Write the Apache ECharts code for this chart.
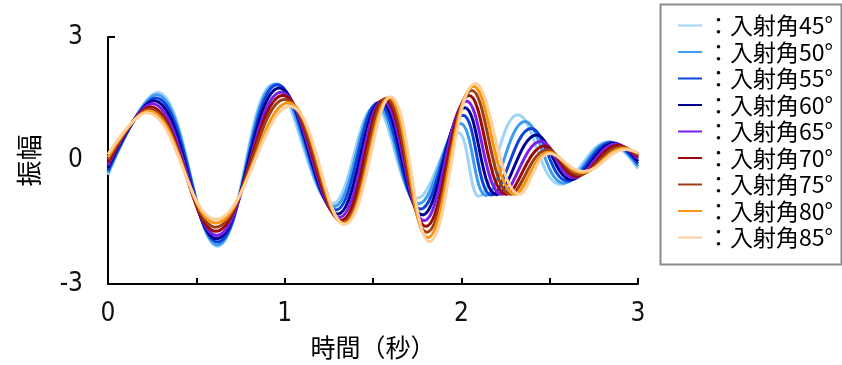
<!DOCTYPE html>
<html>
<head>
<meta charset="utf-8">
<script src="https://cdn.jsdelivr.net/npm/echarts@6/dist/echarts.min.js"></script>
<style>
html,body{margin:0;padding:0;background:#fff;}
#chart{width:842px;height:365px;}
</style>
</head>
<body>
<div id="chart"></div>
<script>
// Legend names and colours
const seriesNames = ['：入射角45°','：入射角50°','：入射角55°','：入射角60°','：入射角65°','：入射角70°','：入射角75°','：入射角80°','：入射角85°'];
const seriesColors = ['#9FD4F7','#3D9CF0','#0D42DC','#000090','#7A1FE8','#9C0808','#9C4116','#F7960E','#FFCF9C'];

// Key points (time in s, amplitude) for each incidence angle
const time45 = [0, 0.28, 0.62, 0.94, 1.27, 1.51, 1.75, 1.98, 2.10, 2.32, 2.56, 2.83, 3];
const amp45  = [-0.35, 1.65, -2.08, 1.85, -1.05, 1.30, -0.92, 0.68, -0.87, 1.11, -0.58, 0.45, -0.20];

const time50 = [0, 0.275, 0.62, 0.95, 1.28, 1.52, 1.76, 1.995, 2.14, 2.36, 2.58, 2.84, 3];
const amp50  = [-0.30, 1.60, -2.05, 1.86, -1.12, 1.35, -1.05, 0.90, -0.85, 0.95, -0.55, 0.45, -0.14];

const time55 = [0, 0.27, 0.62, 0.96, 1.29, 1.53, 1.77, 2.01, 2.17, 2.395, 2.60, 2.85, 3];
const amp55  = [-0.25, 1.52, -1.98, 1.84, -1.20, 1.40, -1.18, 1.10, -0.84, 0.78, -0.50, 0.44, -0.08];

const time60 = [0, 0.26, 0.615, 0.97, 1.30, 1.545, 1.78, 2.02, 2.20, 2.425, 2.62, 2.865, 3];
const amp60  = [-0.18, 1.45, -1.90, 1.76, -1.30, 1.43, -1.32, 1.28, -0.83, 0.62, -0.46, 0.42, -0.02];

const time65 = [0, 0.25, 0.615, 0.98, 1.31, 1.555, 1.79, 2.03, 2.23, 2.45, 2.635, 2.875, 3];
const amp65  = [-0.12, 1.38, -1.82, 1.66, -1.38, 1.46, -1.46, 1.44, -0.82, 0.47, -0.42, 0.40, 0.04];

const time70 = [0, 0.24, 0.61, 0.99, 1.32, 1.565, 1.80, 2.045, 2.255, 2.47, 2.65, 2.89, 3];
const amp70  = [-0.05, 1.30, -1.72, 1.58, -1.45, 1.49, -1.60, 1.58, -0.82, 0.35, -0.38, 0.37, 0.09];

const time75 = [0, 0.235, 0.61, 1.00, 1.33, 1.575, 1.805, 2.06, 2.28, 2.485, 2.665, 2.90, 3];
const amp75  = [0.02, 1.25, -1.62, 1.48, -1.50, 1.51, -1.74, 1.70, -0.82, 0.26, -0.34, 0.33, 0.13];

const time80 = [0, 0.23, 0.61, 1.02, 1.335, 1.59, 1.81, 2.07, 2.305, 2.495, 2.68, 2.92, 3];
const amp80  = [0.08, 1.20, -1.52, 1.40, -1.53, 1.53, -1.87, 1.80, -0.82, 0.20, -0.30, 0.30, 0.17];

const time85 = [0, 0.22, 0.61, 1.03, 1.34, 1.60, 1.82, 2.08, 2.33, 2.50, 2.69, 2.93, 3];
const amp85  = [0.15, 1.16, -1.43, 1.32, -1.55, 1.55, -1.97, 1.87, -0.82, 0.17, -0.27, 0.27, 0.20];

// Axis ticks
const xTicks = [0, 1, 2, 3];
const yTicks = [-3, 0, 3];

const allTimes = [time45, time50, time55, time60, time65, time70, time75, time80, time85];
const allAmps  = [amp45, amp50, amp55, amp60, amp65, amp70, amp75, amp80, amp85];

const chart = echarts.init(document.getElementById('chart'), null, {renderer: 'canvas'});

const labelFont = "'DejaVu Sans Condensed','Liberation Sans Narrow','Noto Sans',sans-serif";
const cjkFont = "'Noto Sans CJK JP','Noto Sans',sans-serif";

const series = seriesNames.map((name, i) => ({
  name: name,
  type: 'line',
  data: allTimes[i].map((t, k) => [t, allAmps[i][k]]),
  smooth: 0.4,
  symbol: 'none',
  showSymbol: false,
  lineStyle: {color: seriesColors[i], width: 3},
  itemStyle: {color: seriesColors[i]},
  z: 2 + i,
  animation: false
}));

chart.setOption({
  animation: false,
  backgroundColor: '#ffffff',
  grid: {left: 108, right: 204, top: 37, bottom: 79, containLabel: false},
  xAxis: {
    type: 'value',
    min: 0, max: 3, interval: 0.5,
    name: '時間（秒）',
    nameLocation: 'middle',
    nameGap: 51,
    nameTextStyle: {fontFamily: cjkFont, fontSize: 25, color: '#000'},
    axisLine: {show: true, onZero: false, lineStyle: {color: '#000', width: 2}},
    axisTick: {show: true, inside: true, length: 6, lineStyle: {color: '#000', width: 2}},
    axisLabel: {
      margin: 17,
      fontFamily: labelFont, fontSize: 26, color: '#111',
      formatter: v => (xTicks.indexOf(v) >= 0 ? String(v) : '')
    },
    splitLine: {show: false}
  },
  yAxis: {
    type: 'value',
    min: -3, max: 3, interval: 3,
    name: '振幅',
    nameLocation: 'middle',
    nameRotate: 90,
    nameGap: 66,
    nameTextStyle: {fontFamily: cjkFont, fontSize: 26, color: '#000'},
    axisLine: {show: true, onZero: false, lineStyle: {color: '#000', width: 2}},
    axisTick: {show: true, inside: true, length: 7, lineStyle: {color: '#000', width: 2}},
    axisLabel: {
      margin: 25,
      fontFamily: labelFont, fontSize: 26, color: '#111',
      formatter: v => (yTicks.indexOf(v) >= 0 ? String(v) : '')
    },
    splitLine: {show: false}
  },
  legend: {
    orient: 'vertical',
    left: 678,
    top: 14,
    padding: 0,
    itemGap: 3.5,
    itemWidth: 24,
    itemHeight: 2,
    icon: 'rect',
    data: seriesNames,
    textStyle: {fontFamily: cjkFont, fontSize: 23, color: '#000'}
  },
  graphic: [{
    type: 'rect',
    left: 658, top: 2,
    shape: {width: 181, height: 260},
    style: {fill: 'none', stroke: '#8a8a8a', lineWidth: 2},
    silent: true
  }],
  series: series
});
</script>
</body>
</html>
